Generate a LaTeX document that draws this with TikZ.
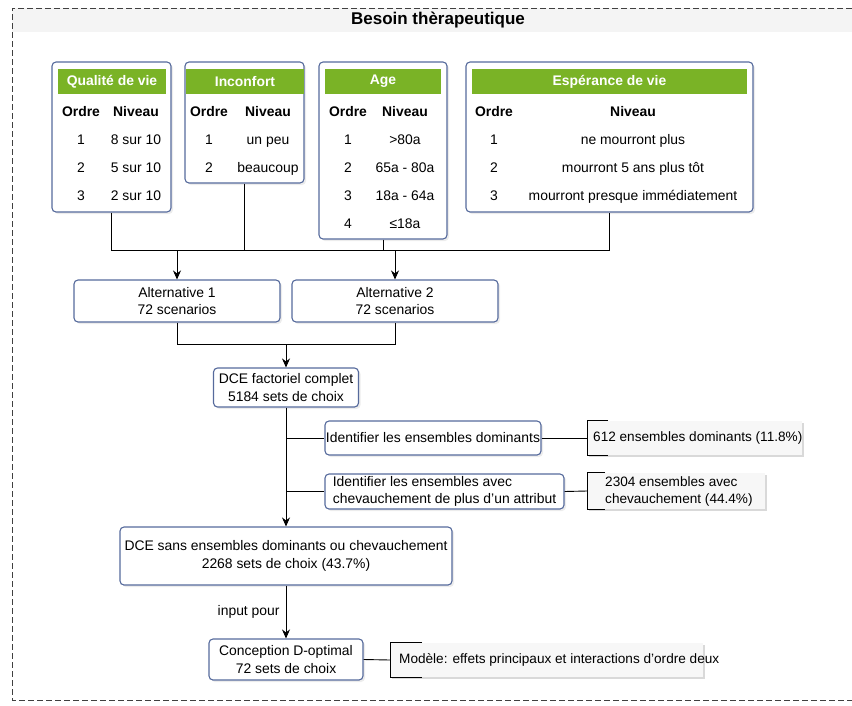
\documentclass[tikz,border=0pt]{standalone}
\usepackage{fontspec}
\setmainfont{Liberation Sans}
\usepackage{tikz}
\usetikzlibrary{arrows.meta,shadows}
\definecolor{boxline}{RGB}{86,106,156}
\definecolor{headgreen}{RGB}{122,179,38}
\newcommand\dsize{\fontsize{13.9}{17.5}\selectfont}
\newcommand\nsize{\fontsize{13.6}{17}\selectfont}
\tikzset{
	box/.style      = {shape=rectangle, rounded corners=4pt,
		draw=boxline, line width=1.1pt, align=center, inner sep=0pt,
		fill=white, drop shadow={opacity=0.15, shadow xshift=2pt, shadow yshift=-2pt}},
	head/.style     = {shape=rectangle, fill=headgreen, text=white,
		font=\dsize\bfseries, inner sep=0pt},
	cell/.style     = {inner sep=0pt, anchor=base, font=\dsize},
	bold/.style     = {cell, font=\dsize\bfseries},
	note/.style     = {shape=rectangle, fill=gray!6, inner sep=0pt,
		drop shadow={opacity=0.3, shadow xshift=2pt, shadow yshift=-2pt}},
	notetext/.style = {inner sep=0pt, font=\nsize},
	title/.style    = {font=\fontsize{17}{20}\selectfont\bfseries},
	frame/.style    = {draw=black!75, line width=0.9pt, dash pattern=on 6pt off 3pt},
	link/.style     = {draw, line width=0.9pt},
	arr/.style      = {link, -{Stealth[length=9pt,width=8pt]}}
}
\begin{document}
\begin{tikzpicture}
	[
	x                 = 1pt,
	y                 = -1pt,
	every node/.style = {font=\dsize}
	]
	\useasboundingbox (0,0) rectangle (852,705);
	\fill[gray!9] (12,8) rectangle (852,32);
	\draw[frame] (852,8) -- (12,8) -- (12,700) -- (852,700);
	\node[title] (titre) at (438,20) {Besoin thèrapeutique};

	\node[box, minimum width=119pt, minimum height=150pt] (qualite) at (111.5,137) {};
	\node[head, minimum width=108pt, minimum height=25pt] (qualite-h) at (112,81.5) {Qualité de vie};
	\node[bold] (qualite-o) at (81,116) {Ordre};
	\node[bold] (qualite-n) at (136,116) {Niveau};
	\foreach \o/\n [count=\i] in {1/8 sur 10, 2/5 sur 10, 3/2 sur 10}{
		\node[cell] (qualite-o\i) at (81,{116+28*\i}) {\o};
		\node[cell] (qualite-n\i) at (136,{116+28*\i}) {\n};
	}

	\node[box, minimum width=119pt, minimum height=121pt] (inconfort) at (244.5,122.5) {};
	\node[head, minimum width=118pt, minimum height=25pt] (inconfort-h) at (245,81.5) {Inconfort};
	\node[bold] (inconfort-o) at (209,116) {Ordre};
	\node[bold] (inconfort-n) at (268,116) {Niveau};
	\foreach \o/\n [count=\i] in {1/un peu, 2/beaucoup}{
		\node[cell] (inconfort-o\i) at (209,{116+28*\i}) {\o};
		\node[cell] (inconfort-n\i) at (268,{116+28*\i}) {\n};
	}

	\node[box, minimum width=128pt, minimum height=177pt] (age) at (383,150.5) {};
	\node[head, minimum width=116pt, minimum height=25pt] (age-h) at (383,81.5) {Age};
	\node[bold] (age-o) at (348,116) {Ordre};
	\node[bold] (age-n) at (405,116) {Niveau};
	\foreach \o/\n [count=\i] in {1/>80a, 2/65a - 80a, 3/18a - 64a, 4/≤18a}{
		\node[cell] (age-o\i) at (348,{116+28*\i}) {\o};
		\node[cell] (age-n\i) at (405,{116+28*\i}) {\n};
	}

	\node[box, minimum width=287pt, minimum height=150pt] (esper) at (609.5,137) {};
	\node[head, minimum width=275pt, minimum height=25pt] (esper-h) at (609.5,81.5) {Espérance de vie};
	\node[bold] (esper-o) at (494,116) {Ordre};
	\node[bold] (esper-n) at (633,116) {Niveau};
	\foreach \o/\n [count=\i] in {1/ne mourront plus, 2/mourront 5 ans plus tôt, 3/mourront presque immédiatement}{
		\node[cell] (esper-o\i) at (494,{116+28*\i}) {\o};
		\node[cell] (esper-n\i) at (633,{116+28*\i}) {\n};
	}

	\node[box, minimum width=206pt, minimum height=42pt] (alt1) at (177,301) {Alternative 1\\72 scenarios};
	\node[box, minimum width=206pt, minimum height=42pt] (alt2) at (395,301) {Alternative 2\\72 scenarios};
	\node[box, minimum width=145pt, minimum height=39pt] (dce) at (286,387.5) {DCE factoriel complet\\5184 sets de choix};
	\node[box, minimum width=216pt, minimum height=34pt] (ident1) at (433,438) {Identifier les ensembles dominants};
	\node[box, minimum width=239pt, minimum height=35pt, align=left] (ident2) at (444.5,491.5) {Identifier les ensembles avec\\chevauchement de plus d'un attribut};
	\node[box, minimum width=332pt, minimum height=58pt] (sans) at (286,556) {DCE sans ensembles dominants ou chevauchement\\2268 sets de choix (43.7\%)};
	\node[box, minimum width=154pt, minimum height=41pt] (concept) at (286,659.5) {Conception D-optimal\\72 sets de choix};

	\node[note, minimum width=215pt, minimum height=34pt, anchor=west] (note1) at (587,438) {};
	\node[notetext, anchor=west] (note1-t) at (593,438) {612 ensembles dominants (11.8\%)};
	\node[note, minimum width=178pt, minimum height=36pt, anchor=west] (note2) at (587,491) {};
	\node[notetext, anchor=west, align=left] (note2-t) at (605,491) {2304 ensembles avec\\chevauchement (44.4\%)};
	\node[note, minimum width=313pt, minimum height=34pt, anchor=west] (note3) at (390,660) {};
	\node[notetext, anchor=west] (note3-t) at (399,660) {Modèle: effets principaux et interactions d'ordre deux};
	\foreach \n/\t in {note1/21, note2/18, note3/32}
		\draw[link] ([xshift=\t pt]\n.north west) -- (\n.north west) -- (\n.south west) -- ([xshift=\t pt]\n.south west);

	\coordinate (bus) at (0,250);
	\coordinate (join) at (0,344);
	\draw[link] (qualite.south) |- (esper.south |- bus) -- (esper.south);
	\draw[link] (inconfort.south) -- (inconfort.south |- bus);
	\draw[link] (age.south) -- (age.south |- bus);
	\draw[arr] (alt1.north |- bus) -- (alt1.north);
	\draw[arr] (alt2.north |- bus) -- (alt2.north);
	\draw[link] (alt1.south) |- (alt2.south |- join) -- (alt2.south);
	\draw[arr] (dce.north |- join) -- (dce.north);
	\draw[arr] (dce.south) -- (sans.north);
	\draw[link] (dce.south |- ident1.west) -- (ident1.west);
	\draw[link] (dce.south |- ident2.west) -- (ident2.west);
	\draw[link] (ident1.east) -- (note1.west);
	\draw[link] (ident2.east) -- (note2.west);
	\draw[arr] (sans.south) -- (concept.north) node[midway, left, inner xsep=6pt] (input) {input pour};
	\draw[link] (concept.east) -- (note3.west);
\end{tikzpicture}
\end{document}
